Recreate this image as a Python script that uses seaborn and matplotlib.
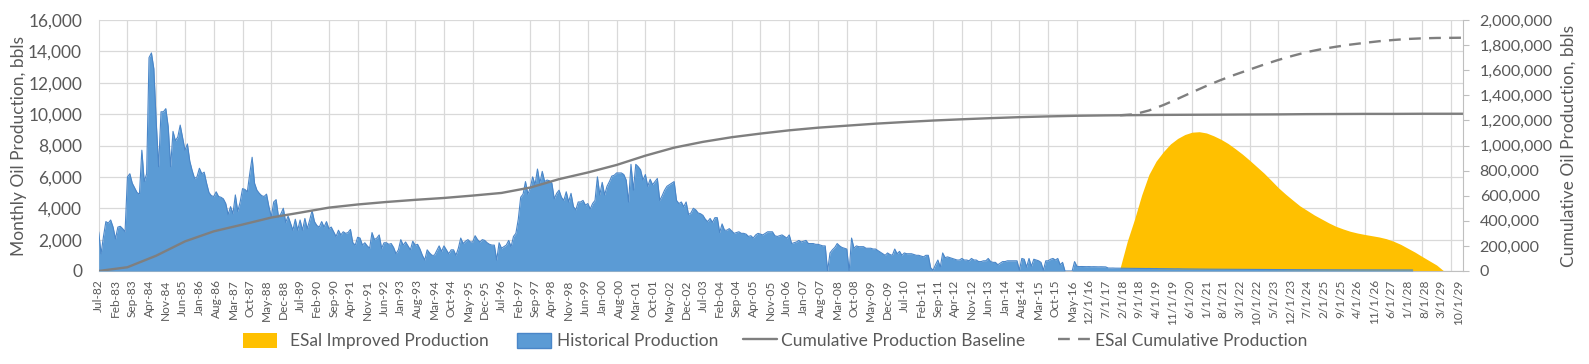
import numpy as np
import pandas as pd
import matplotlib
matplotlib.use("Agg")
import matplotlib.pyplot as plt
from matplotlib.patches import Patch
from matplotlib.lines import Line2D
from matplotlib.ticker import FuncFormatter, FixedLocator
import seaborn as sns

# ---------------- data ----------------
axis_start = "1982-07-01"
axis_end = "2029-12-01"

# Monthly historical / baseline production, bbls, starting Jul-1982
historical_production = [
    2500, 1100, 2200, 3150, 3050, 3250, 2800, 2050, 2800, 2850, 2700, 2500,
    6000, 6200, 5600, 5300, 5000, 4900, 7700, 5700, 6200, 13600, 13900, 12900,
    9500, 6650, 10150, 10150, 10350, 9200, 6650, 8900, 8300, 8550, 9300, 8500,
    7700, 8100, 7000, 6400, 5900, 6000, 6550, 6200, 6300, 5600, 5000, 4800,
    4750, 5050, 4750, 4700, 4600, 4300, 3600, 4100, 3650, 4850, 3800, 4400,
    5250, 5200, 5050, 6200, 7250, 5600, 5150, 4950, 4800, 4750, 4900, 4100,
    3450, 4400, 4550, 3450, 3650, 4000, 3100, 3500, 3050, 2600, 3300, 2600,
    3250, 2600, 3350, 2700, 3250, 3850, 3150, 2900, 2800, 3150, 2800, 3150,
    2700, 2800, 2500, 2200, 2600, 2300, 2500, 2400, 2450, 2650, 1800, 1650,
    2150, 2100, 1650, 1800, 1600, 1450, 2450, 2000, 2100, 2300, 1450, 1800,
    1800, 1700, 1750, 1500, 1100, 1350, 2000, 1650, 1850, 1600, 1350, 1900,
    1650, 1700, 1400, 1000, 700, 1350, 1150, 1000, 1000, 1300, 1600, 1250,
    1600, 1350, 1100, 1350, 1350, 1000, 1450, 2100, 1750, 1900, 2000, 1850,
    1850, 2250, 2000, 1850, 2000, 1950, 1800, 1700, 1650, 1650, 700, 1800,
    1450, 1550, 1650, 1950, 1550, 2200, 2400, 3300, 4700, 4900, 5700, 4900,
    5300, 6000, 5500, 6500, 5600, 6350, 5700, 5800, 5750, 5600, 4600, 4950,
    5150, 4700, 4500, 5050, 4400, 4950, 4100, 3900, 4400, 4400, 4500, 4200,
    4300, 3950, 4300, 4500, 6000, 4850, 5650, 4850, 5400, 5700, 6050, 6100,
    6250, 6250, 6250, 6150, 5800, 4400, 6800, 5150, 6800, 6650, 6450, 5800,
    6150, 5400, 5850, 5500, 5700, 5900, 4500, 4800, 5150, 5400, 5500, 5600,
    5700, 4500, 4300, 4400, 4100, 4400, 3600, 3700, 4000, 3900, 3700, 3650,
    3550, 3300, 3150, 3350, 3100, 3400, 3400, 2450, 3000, 2600, 2600, 2700,
    2550, 2400, 2450, 2500, 2400, 2400, 2350, 2200, 2250, 2100, 2300, 2400,
    2350, 2300, 2400, 2500, 2500, 2500, 2250, 2200, 2250, 2300, 2200, 2100,
    2300, 1750, 1800, 1850, 1950, 1850, 1900, 1950, 1750, 1750, 1750, 1700,
    1700, 1650, 1600, 1600, 0, 1150, 1350, 1500, 1750, 1600, 1500, 1450,
    1400, 0, 2100, 1450, 1600, 1550, 1550, 1550, 1450, 1450, 1450, 1400,
    1400, 1300, 1200, 1100, 1000, 1150, 1050, 1000, 1400, 1100, 1250, 1000,
    1150, 1100, 1100, 1100, 1050, 1000, 1000, 950, 900, 1000, 1000, 200,
    50, 400, 700, 250, 1150, 850, 900, 850, 800, 750, 700, 700,
    800, 700, 700, 650, 800, 700, 700, 600, 600, 650, 650, 800,
    600, 550, 550, 400, 500, 600, 600, 650, 650, 650, 650, 650,
    50, 800, 750, 250, 800, 300, 750, 700, 650, 550, 50, 650,
    650, 750, 800, 700, 800, 400, 550, 0, 0, 0, 0, 600,
    300, 280, 285, 280, 275, 280, 270, 275, 270, 265, 270, 265,
    260, 190, 185, 188, 180, 182, 178, 175, 177, 172, 170, 168,
    170, 165, 162, 166, 160, 158, 161, 155, 153, 156, 150, 148,
    150, 146, 143, 145, 140, 138, 141, 136, 133, 135, 130, 128,
    127, 125, 126, 122, 121, 123, 118, 117, 119, 115, 114, 116,
    112, 111, 113, 108, 107, 109, 105, 104, 106, 102, 101, 103,
    99, 98, 100, 96, 95, 97, 93, 92, 94, 91, 90, 92,
    89, 88, 90, 87, 86, 88, 85, 84, 86, 83, 83, 85,
    82, 81, 83, 80, 80, 81, 79, 78, 80, 77, 77, 78,
    76, 75, 77, 75, 74, 75, 73, 73, 74, 72, 72, 73,
    71, 70, 72, 70, 69, 70, 68, 68, 69, 67, 67, 68,
    66, 66, 67, 65, 65, 66, 64, 64, 65,
]

# ESal improved production, every 3 months from Jan-2018
improved_start = "2018-01-01"
improved_production = [
    200, 1900, 3300, 4850, 6150, 7000, 7600, 8100, 8450, 8700, 8850, 8880,
    8800, 8620, 8400, 8130, 7800, 7450, 7060, 6650, 6240, 5780, 5310, 4900,
    4520, 4150, 3860, 3570, 3320, 3070, 2850, 2680, 2530, 2420, 2330, 2250,
    2170, 2060, 1900, 1700, 1450, 1200, 920, 650, 380, 0,
]

# Cumulative production baseline, each July 1982..2029 plus Dec-2029
cum_baseline = [
    0, 30000, 122000, 236000, 316000, 370000, 426000, 465000, 505000, 530000,
    550000, 567000, 582000, 601000, 622000, 665000, 732000, 785000, 845000, 919000,
    983000, 1029000, 1066000, 1095000, 1121000, 1142000, 1158000, 1174000, 1187000, 1199000,
    1209000, 1218000, 1226000, 1232000, 1237000, 1240000, 1242000, 1244000, 1245000, 1246000,
    1247000, 1248000, 1250000, 1251000, 1252000, 1252000, 1253000, 1253000, 1253000,
]

# ESal cumulative production, every 6 months from Jan-2018 plus Dec-2029
cum_esal = [
    1241000, 1249000, 1279000, 1322000, 1372000, 1424000, 1475000, 1522000, 1565000,
    1605000, 1645000, 1682000, 1715000, 1745000, 1768000, 1787000, 1804000, 1818000,
    1831000, 1841000, 1849000, 1854000, 1857000, 1858000, 1859000,
]

series_names = ["ESal Improved Production", "Historical Production",
                "Cumulative Production Baseline", "ESal Cumulative Production"]
left_label = "Monthly Oil Production, bbls"
right_label = "Cumulative Oil Production, bbls"

# ---------------- helpers ----------------
origin = pd.Timestamp(axis_start)


def month_index(dates):
    d = pd.DatetimeIndex(dates)
    return (d.year - origin.year) * 12 + (d.month - origin.month)


hist_dates = pd.date_range(axis_start, periods=len(historical_production), freq="MS")
imp_dates = pd.date_range(improved_start, periods=len(improved_production), freq="3MS")
cumb_dates = list(pd.date_range(axis_start, "2029-07-01", freq="12MS")) + [pd.Timestamp(axis_end)]
cume_dates = list(pd.date_range(improved_start, "2029-07-01", freq="6MS")) + [pd.Timestamp(axis_end)]

df_hist = pd.DataFrame({"m": month_index(hist_dates), "v": historical_production})
df_imp = pd.DataFrame({"m": month_index(imp_dates), "v": improved_production})
df_cumb = pd.DataFrame({"m": month_index(cumb_dates), "v": cum_baseline})
df_cume = pd.DataFrame({"m": month_index(cume_dates), "v": cum_esal})

all_months = pd.date_range(axis_start, "2029-10-01", freq="MS")
label_dates = all_months[::7]
tick_labels = [d.strftime("%b-%y") if d <= pd.Timestamp("2016-05-01")
               else f"{d.month}/1/{d.strftime('%y')}" for d in label_dates]
grid_dates = pd.date_range(axis_start, axis_end, freq="12MS")

# ---------------- styling ----------------
sns.set_style("white")
plt.rcParams["font.family"] = ["Lato", "DejaVu Sans"]

TXT = "#595959"
GRID = "#D9D9D9"
BLUE = "#5B9BD5"
BLUE_EDGE = "#4A86C8"
GOLD = "#FFC000"
GRAY = "#7F7F7F"
DASH = (0, (5, 3.5))

fig = plt.figure(figsize=(15.89, 3.64), dpi=100)
ax = fig.add_axes([0.0621, 0.2555, 0.8586, 0.6895])
ax2 = ax.twinx()

# areas
ax.fill_between(df_imp["m"], df_imp["v"], color=GOLD, lw=0, zorder=2)
ax.fill_between(df_hist["m"], df_hist["v"], color=BLUE, lw=0, zorder=3)
sns.lineplot(data=df_hist, x="m", y="v", ax=ax, color=BLUE_EDGE, lw=0.8, zorder=4)

# cumulative lines
sns.lineplot(data=df_cumb, x="m", y="v", ax=ax2, color=GRAY, lw=1.7)
sns.lineplot(data=df_cume, x="m", y="v", ax=ax2, color=GRAY, lw=1.7,
             dashes=False, linestyle=DASH)

x_max = month_index([axis_end])[0]
ax.set_xlim(0, x_max)
ax.set_ylim(0, 16000)
ax2.set_ylim(0, 2000000)

ax.set_xticks(month_index(label_dates))
ax.set_xticklabels(tick_labels, rotation=90)
ax.xaxis.set_minor_locator(FixedLocator(month_index(grid_dates)))
ax.set_yticks(np.arange(0, 16001, 2000))
ax.yaxis.set_major_formatter(FuncFormatter(lambda v, p: f"{int(v):,}"))
ax2.set_yticks(np.arange(0, 2000001, 200000))
ax2.yaxis.set_major_formatter(FuncFormatter(lambda v, p: f"{int(v):,}"))

ax.set_axisbelow(True)
ax.grid(axis="y", which="major", color=GRID, lw=0.9)
ax.grid(axis="x", which="minor", color=GRID, lw=0.9)
ax.grid(axis="x", which="major", visible=False)
ax2.grid(False)

ax.tick_params(axis="x", which="major", length=0, pad=6, labelsize=8.6, labelcolor=TXT)
ax.tick_params(axis="x", which="minor", length=0)
ax.tick_params(axis="y", length=0, pad=12, labelsize=12.5, labelcolor=TXT)
ax2.tick_params(axis="y", length=4, width=0.8, color="#BFBFBF", pad=8,
                labelsize=11.6, labelcolor=TXT)

for s in ["top", "right"]:
    ax.spines[s].set_visible(False)
ax.spines["left"].set_color(GRID)
ax.spines["bottom"].set_color("#BFBFBF")
for s in ["top", "left", "bottom"]:
    ax2.spines[s].set_visible(False)
ax2.spines["right"].set_color("#BFBFBF")

ax.set_xlabel("")
ax2.set_xlabel("")
ax.set_ylabel(left_label, fontsize=12.5, color=TXT)
ax2.set_ylabel(right_label, fontsize=12.5, color=TXT)
ax.yaxis.set_label_coords(-0.0526, 0.5)
ax2.yaxis.set_label_coords(1.0716, 0.5)

handles = [
    Patch(facecolor=GOLD, edgecolor="none"),
    Patch(facecolor=BLUE, edgecolor=BLUE_EDGE, lw=1),
    Line2D([0], [0], color=GRAY, lw=1.7),
    Line2D([0], [0], color=GRAY, lw=1.7, linestyle=DASH),
]
entry_x = [0.1529, 0.3254, 0.4676, 0.6658]
entry_pad = [0.75, 0.35, 0.25, 0.2]
for h, name, x0, pad in zip(handles, series_names, entry_x, entry_pad):
    fig.legend([h], [name], loc="center left", bbox_to_anchor=(x0, 0.0632),
               frameon=False, fontsize=12.5, labelcolor=TXT, handlelength=1.95,
               handleheight=1.0, handletextpad=pad, borderpad=0, borderaxespad=0)

fig.savefig("out.png", dpi=100)
